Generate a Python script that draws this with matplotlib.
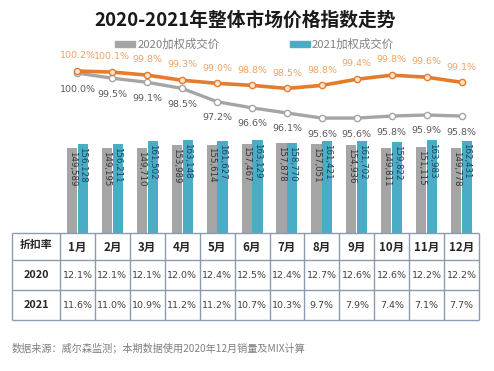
import matplotlib
matplotlib.use("Agg")
import matplotlib.pyplot as plt
import numpy as np

plt.rcParams['font.family'] = ['Noto Sans CJK SC', 'DejaVu Sans']

months = ['1月', '2月', '3月', '4月', '5月', '6月', '7月', '8月', '9月', '10月', '11月', '12月']
price_2020 = [149589, 149195, 149710, 153989, 155614, 157467, 157878, 157051, 154936, 149811, 151115, 149778]
price_2021 = [156128, 156211, 161502, 163148, 161627, 163129, 158770, 161421, 161702, 159822, 163983, 162431]
index_2020 = [100.0, 99.5, 99.1, 98.5, 97.2, 96.6, 96.1, 95.6, 95.6, 95.8, 95.9, 95.8]
index_2021 = [100.2, 100.1, 99.8, 99.3, 99.0, 98.8, 98.5, 98.8, 99.4, 99.8, 99.6, 99.1]
disc_2020 = ['12.1%', '12.1%', '12.1%', '12.0%', '12.4%', '12.5%', '12.4%', '12.7%', '12.6%', '12.6%', '12.2%', '12.2%']
disc_2021 = ['11.6%', '11.0%', '10.9%', '11.2%', '11.2%', '10.7%', '10.3%', '9.7%', '7.9%', '7.4%', '7.1%', '7.7%']
row_labels = ['2020', '2021']
title = '2020-2021年整体市场价格指数走势'
legend_labels = ['2020加权成交价', '2021加权成交价']
corner = '折扣率'
note = '数据来源：威尔森监测；本期数据使用2020年12月销量及MIX计算'

W, H = 494, 371
fig = plt.figure(figsize=(W / 100, H / 100), dpi=100)
fig.patch.set_facecolor('white')

def frac_box(x0, y0, x1, y1):
    # pixel box (top-left origin) -> figure fraction
    return [x0 / W, 1 - y1 / H, (x1 - x0) / W, (y1 - y0) / H]

GRAY = '#A5A5A5'
TEAL = '#4BACC6'
ORANGE = '#E57B2C'

# main chart axes
ax = fig.add_axes(frac_box(60, 50, 479, 233))
x = np.arange(len(months))
bw = 0.29
ax.bar(x - bw / 2 - 0.01, price_2020, width=bw, color=GRAY, zorder=2)
ax.bar(x + bw / 2 + 0.01, price_2021, width=bw, color=TEAL, zorder=2)
ax.set_xlim(-0.5, len(months) - 0.5)
ax.set_ylim(0, 322000)
ax.axis('off')

for xi, v in zip(x, price_2020):
    ax.annotate(f'{v:,}', (xi - bw / 2 - 0.01, v), xytext=(0, -2), textcoords='offset points',
                rotation=270, ha='center', va='top', fontsize=6.2, color='#333333',
                family=['DejaVu Sans'])
for xi, v in zip(x, price_2021):
    ax.annotate(f'{v:,}', (xi + bw / 2 + 0.01, v), xytext=(0, -2), textcoords='offset points',
                rotation=270, ha='center', va='top', fontsize=6.2, color='#1F3F5F',
                family=['DejaVu Sans'])

ax2 = ax.twinx()
ax2.set_ylim(84.36, 102.26)
ax2.set_xlim(-0.5, len(months) - 0.5)
ax2.plot(x, index_2020, color=GRAY, lw=2.4, marker='o', ms=4.5, mfc='white', mec=GRAY, mew=1.0, zorder=3)
ax2.plot(x, index_2021, color=ORANGE, lw=2.6, marker='o', ms=4.5, mfc='#FBE3CF', mec=ORANGE, mew=1.0, zorder=4)
ax2.axis('off')
for xi, v in zip(x, index_2020):
    ax2.annotate(f'{v:.1f}%', (xi, v), xytext=(0, -11.5), textcoords='offset points',
                 ha='center', va='center', fontsize=6.8, color='#595959', family=['DejaVu Sans'])
for xi, v in zip(x, index_2021):
    ax2.annotate(f'{v:.1f}%', (xi, v), xytext=(0, 11), textcoords='offset points',
                 ha='center', va='center', fontsize=6.8, color='#EFA366', family=['DejaVu Sans'])

# title & legend
fig.text(245 / W, 1 - 20 / H, title, ha='center', va='center', fontsize=13.5, fontweight='bold', color='#1A1A1A')
fig.patches.append(plt.Rectangle((115 / W, 1 - 46.5 / H), 20 / W, 5 / H, transform=fig.transFigure,
                                 color=GRAY, figure=fig))
fig.text(138 / W, 1 - 44 / H, legend_labels[0], ha='left', va='center', fontsize=8.2, color='#808080')
fig.patches.append(plt.Rectangle((290 / W, 1 - 46.5 / H), 20 / W, 5 / H, transform=fig.transFigure,
                                 color=TEAL, figure=fig))
fig.text(312 / W, 1 - 44 / H, legend_labels[1], ha='left', va='center', fontsize=8.2, color='#808080')

# table axes
unit = (479 - 60) / 12.0
left_edge = -0.5 - (60 - 12) / unit
tx = fig.add_axes(frac_box(12, 233, 479, 320))
tx.set_xlim(left_edge, len(months) - 0.5)
tx.set_ylim(3, 0)
tx.axis('off')
row_edges = [0, 27 / 29.0, 27 / 29.0 + 1.0, 3]
# convert row edges: header 233-260, row1 260-290, row2 290-320 -> total 87 px
px_rows = [233, 260, 290, 320]
row_edges = [(p - 233) / 87 * 3 for p in px_rows]
LINE = '#8A9BB0'
tx.hlines(row_edges, left_edge, len(months) - 0.5, color=LINE, lw=1.0, clip_on=False)
col_edges = [left_edge] + [i - 0.5 for i in range(len(months) + 1)]
tx.vlines(col_edges, 0, 3, color=LINE, lw=1.0, clip_on=False)

ctr = [(row_edges[i] + row_edges[i + 1]) / 2 for i in range(3)]
cx0 = (left_edge - 0.5) / 2
tx.text(cx0, ctr[0] - 0.05, corner, ha='center', va='center', fontsize=7.8, fontweight='bold', color='#262626')
for i, m in enumerate(months):
    tx.text(i, ctr[0] + 0.05, m, ha='center', va='center', fontsize=8.3, fontweight='bold', color='#262626')
for r, (lab, vals) in enumerate(zip(row_labels, [disc_2020, disc_2021])):
    tx.text(cx0, ctr[r + 1], lab, ha='center', va='center', fontsize=7.8, fontweight='bold', color='#262626')
    for i, v in enumerate(vals):
        tx.text(i, ctr[r + 1], v, ha='center', va='center', fontsize=6.8, color='#404040',
                family=['DejaVu Sans'])

fig.text(12 / W, 1 - 348 / H, note, ha='left', va='center', fontsize=7.3, color='#7F7F7F')

fig.savefig('out.png', dpi=100, facecolor='white')
